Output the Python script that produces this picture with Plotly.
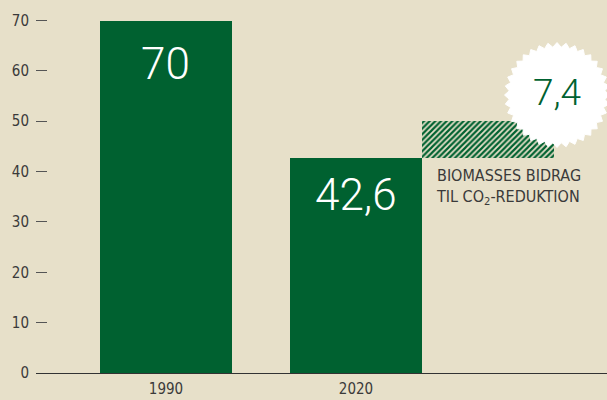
import numpy as np
import plotly.graph_objects as go

# ---- data ----
years = ["1990", "2020"]
emissions = [70, 42.6]
emission_labels = ["70", "42,6"]
biomass_contribution = 7.4
biomass_label = "7,4"
caption = "BIOMASSES BIDRAG<br>TIL CO<sub>2</sub>-REDUKTION"
y_ticks = [0, 10, 20, 30, 40, 50, 60, 70]

# ---- style ----
BG = "#E7E0C9"
GREEN = "#006130"
TEXT = "#3a3a3a"
FONT = "Liberation Sans Narrow, DejaVu Sans Condensed, Roboto"
W, H = 607, 400
ML, MB = 36, 27
XR = [-0.684, 2.321]
YR = [0, 74.07]
BAR_W = 0.695
label_shift = [-43, -37]

plot_w = W - ML
plot_h = H - MB
px_x = plot_w / (XR[1] - XR[0])
px_y = plot_h / (YR[1] - YR[0])

xpos = list(range(len(years)))
hatch_x = xpos[-1] + BAR_W

fig = go.Figure()
fig.add_trace(go.Bar(x=xpos, y=emissions, width=BAR_W,
                     marker=dict(color=GREEN, line=dict(width=0)),
                     hoverinfo="skip", showlegend=False))
fig.add_trace(go.Bar(x=[hatch_x], y=[biomass_contribution], base=[emissions[-1]],
                     width=BAR_W,
                     marker=dict(color=GREEN, line=dict(width=0),
                                 pattern=dict(shape="/", fgcolor=GREEN, bgcolor=BG,
                                              fgopacity=1, fillmode="replace",
                                              size=4, solidity=0.55)),
                     hoverinfo="skip", showlegend=False))

# starburst badge (decorative), built in pixel space around a centre
cx = hatch_x + 0.363
cy = emissions[-1] + biomass_contribution + 5.2
n_teeth = 36
ang = np.linspace(0, 2 * np.pi, 2 * n_teeth + 1)
rad = np.where(np.arange(2 * n_teeth + 1) % 2 == 0, 52.5, 48)
sx = cx + rad * np.cos(ang) / px_x
sy = cy + rad * np.sin(ang) / px_y
fig.add_trace(go.Scatter(x=sx, y=sy, mode="lines", fill="toself",
                         fillcolor="white", line=dict(color="white", width=1),
                         hoverinfo="skip", showlegend=False))

annotations = []
for x, v, lab, sh in zip(xpos, emissions, emission_labels, label_shift):
    annotations.append(dict(x=x, y=v, yshift=sh, text=lab, showarrow=False,
                            xanchor="center", yanchor="middle",
                            font=dict(family="Roboto", size=44, color="white", weight=300)))
annotations.append(dict(x=cx, y=cy, yshift=3, text=biomass_label, showarrow=False,
                        xanchor="center", yanchor="middle",
                        font=dict(family="Roboto", size=37, color=GREEN, weight=300)))
annotations.append(dict(x=hatch_x - BAR_W / 2, y=emissions[-1], yshift=-29, xshift=12,
                        text=caption, showarrow=False, align="left",
                        xanchor="left", yanchor="middle",
                        font=dict(family=FONT, size=16, color=TEXT)))

fig.update_layout(
    width=W, height=H,
    margin=dict(l=ML, r=0, t=0, b=MB, pad=0, autoexpand=False),
    paper_bgcolor=BG, plot_bgcolor=BG,
    barmode="overlay", bargap=0,
    annotations=annotations,
    xaxis=dict(range=XR, tickvals=xpos, ticktext=years, showgrid=False, zeroline=False,
               showline=True, linecolor="#333333", linewidth=1, ticks="",
               ticklabelstandoff=2, automargin=False,
               tickfont=dict(family=FONT, size=15, color=TEXT), fixedrange=True),
    yaxis=dict(range=YR, tickvals=y_ticks, showgrid=False, zeroline=False,
               showline=False, ticks="inside", ticklen=11, tickcolor="#555555",
               tickwidth=1, ticklabelstandoff=6, automargin=False,
               tickfont=dict(family=FONT, size=15, color=TEXT), fixedrange=True),
)
fig.write_html("out.html", config={"displayModeBar": False},
               post_script="document.body.style.margin='0';document.body.style.background='" + BG + "';")
